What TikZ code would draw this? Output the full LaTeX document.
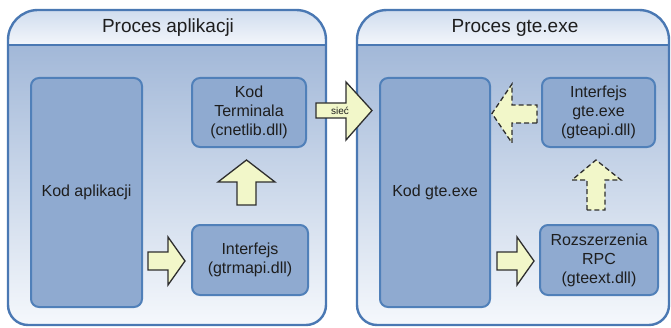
\documentclass[tikz,border=0pt]{standalone}
\usepackage{fontspec}
\setmainfont{Liberation Sans}
\definecolor{frameline}{HTML}{4A78B3}
\definecolor{hdtop}{HTML}{CFDCEE}
\definecolor{hdbot}{HTML}{F3F6FB}
\definecolor{bodytop}{HTML}{A2B8D8}
\definecolor{bodybot}{HTML}{F5F8FC}
\definecolor{boxfill}{HTML}{8FAAD0}
\definecolor{boxline}{HTML}{5080B9}
\definecolor{arrfill}{HTML}{F2F7C9}
\definecolor{arrline}{HTML}{2E2E2E}
\definecolor{txt}{HTML}{1E1E1E}
\newcommand{\procframe}[2]{%
  \begin{scope}
    \clip (#1,160) [rounded corners=30pt] -- (#1,317) -- (#2,317) -- (#2,160)
          [rounded corners=20pt] -- (#2,2) -- (#1,2) -- cycle;
    \shade[top color=bodytop, bottom color=bodybot] (#1,2) rectangle (#2,282);
    \shade[top color=hdtop, bottom color=hdbot] (#1,282) rectangle (#2,318);
  \end{scope}
  \draw[frame] (#1,282) -- (#2,282);
  \draw[frame] (#1,160) [rounded corners=30pt] -- (#1,317) -- (#2,317) -- (#2,160)
          [rounded corners=20pt] -- (#2,2) -- (#1,2) -- cycle;
}
\tikzset{
  frame/.style={draw=frameline, line width=2.4pt},
  hdr/.style={font=\fontsize{19}{22}\selectfont, text=txt},
  inbox/.style={draw=boxline, fill=boxfill, line width=2pt, rounded corners=8pt,
    font=\fontsize{16}{19}\selectfont, text=txt, align=center, inner sep=0pt},
  blockarr/.style={draw=arrline, fill=arrfill, line width=1.3pt, line join=miter},
  dasharr/.style={blockarr, dashed, dash pattern=on 5pt off 3pt},
}
\begin{document}
\begin{tikzpicture}[x=1pt,y=1pt]
\useasboundingbox (0,0) rectangle (671,327);
\procframe{8}{326}
\procframe{357}{669}
\node[hdr] (h1) at (168,299) {Proces aplikacji};
\node[hdr] (h2) at (515,299) {Proces gte.exe};

\node[inbox, minimum width=111pt, minimum height=229pt] (app) at (86.5,134.5) {Kod aplikacji};
\node[inbox, minimum width=114pt, minimum height=69pt] (term) at (249,214.5) {Kod\\Terminala\\(cnetlib.dll)};
\node[inbox, minimum width=116pt, minimum height=70pt] (gtrm) at (250,67) {Interfejs\\(gtrmapi.dll)};
\node[inbox, minimum width=110pt, minimum height=229pt] (gte) at (435,134.5) {Kod gte.exe};
\node[inbox, minimum width=113pt, minimum height=69pt] (gapi) at (598.5,214.5) {Interfejs\\gte.exe\\(gteapi.dll)};
\node[inbox, minimum width=118pt, minimum height=70pt] (gext) at (599,67) {Rozszerzenia\\RPC\\(gteext.dll)};

% solid block arrows
\draw[blockarr] (237,122) -- (237,145) -- (218,145) -- (246.5,167) -- (275,145) -- (256,145) -- (256,122) -- cycle;
\draw[blockarr] (148,57) -- (168,57) -- (168,42) -- (185,66) -- (168,90) -- (168,75) -- (148,75) -- cycle;
\draw[blockarr] (497,57) -- (517,57) -- (517,42) -- (534,66) -- (517,90) -- (517,75) -- (497,75) -- cycle;
% network arrow
\draw[blockarr] (316,209) -- (346,209) -- (346,187) -- (372,216.5) -- (346,245) -- (346,224) -- (316,224) -- cycle;
\node[font=\fontsize{10}{12}\selectfont, text=txt, inner sep=0pt] (net) at (340,216.5) {sieć};
% dashed block arrows
\draw[dasharr] (537,204) -- (512,204) -- (512,184) -- (492,213.5) -- (512,243) -- (512,222) -- (537,222) -- cycle;
\draw[dasharr] (587,117) -- (587,147) -- (572,147) -- (596,167) -- (621,147) -- (605,147) -- (605,117) -- cycle;
\end{tikzpicture}
\end{document}
